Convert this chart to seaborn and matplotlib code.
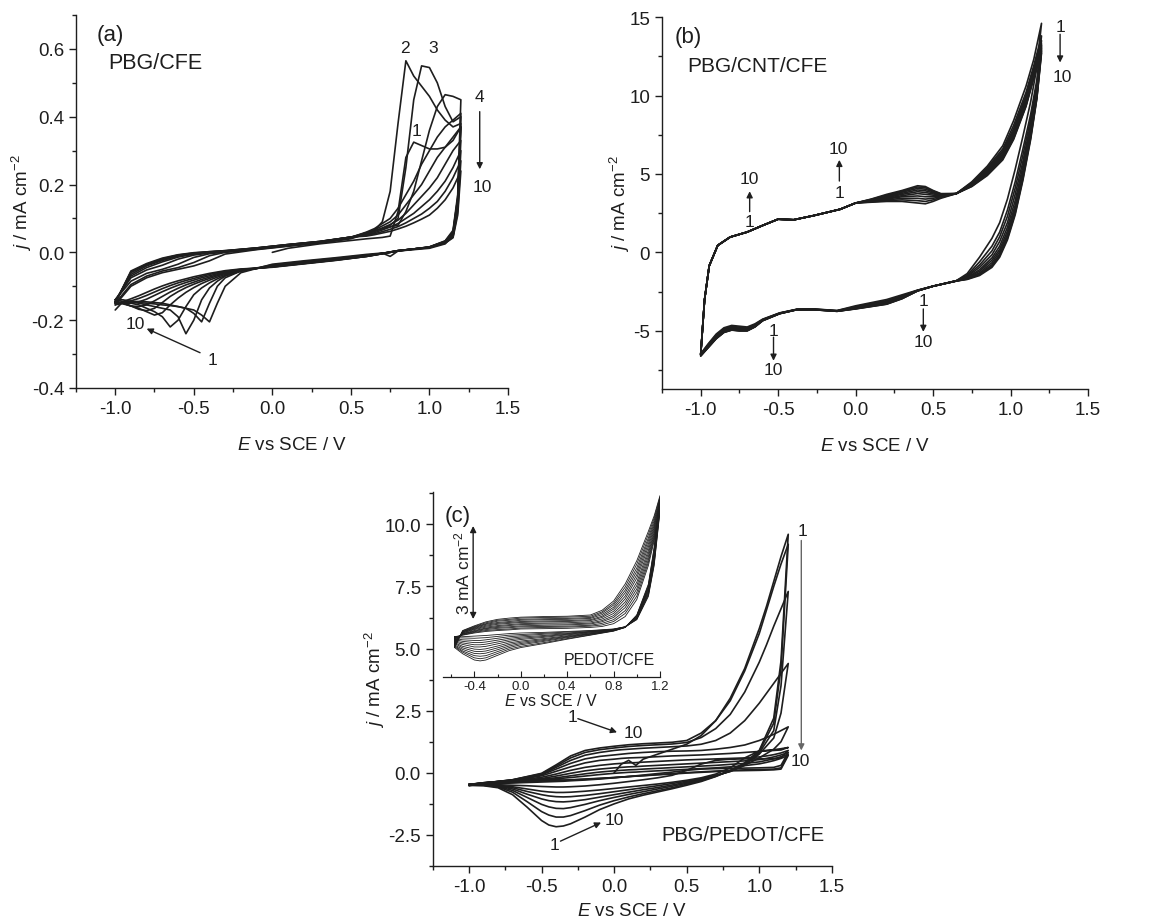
import numpy as np
import pandas as pd
import matplotlib
matplotlib.use('Agg')
import matplotlib.pyplot as plt
import seaborn as sns
from matplotlib.ticker import MultipleLocator, FormatStrFormatter

nan = np.nan

# ---------------- panel (a): PBG/CFE ----------------
a_E_fwd = [-1.0, -0.9, -0.8, -0.7, -0.6, -0.5, -0.4, -0.3, -0.1, 0.0, 0.1, 0.3, 0.5,
           0.6, 0.65, 0.7, 0.75, 0.8, 0.85, 0.9, 0.95, 1.0, 1.05, 1.1, 1.15, 1.2]
a_j_fwd = [
    [nan] * 9 + [0.0, 0.012, 0.025, 0.035, 0.04, 0.042, 0.044, 0.048, 0.12, 0.28, 0.325, 0.315, 0.305, 0.305, 0.31, 0.33, 0.37],
    [-0.155, -0.10, -0.075, -0.06, -0.05, -0.04, -0.025, -0.005, 0.008, 0.013, 0.018, 0.027, 0.04, 0.055, 0.065, 0.09, 0.18, 0.38, 0.565, 0.52, 0.49, 0.46, 0.42, 0.39, 0.37, 0.38],
    [-0.15, -0.095, -0.07, -0.055, -0.045, -0.03, -0.01, 0.0, 0.009, 0.014, 0.019, 0.028, 0.042, 0.055, 0.062, 0.07, 0.08, 0.1, 0.25, 0.45, 0.55, 0.545, 0.5, 0.43, 0.385, 0.40],
    [-0.14, -0.085, -0.062, -0.05, -0.035, -0.015, -0.004, 0.001, 0.01, 0.015, 0.02, 0.029, 0.043, 0.058, 0.064, 0.07, 0.075, 0.08, 0.12, 0.18, 0.27, 0.36, 0.43, 0.465, 0.46, 0.45],
    [-0.14, -0.075, -0.052, -0.038, -0.02, -0.008, -0.002, 0.002, 0.011, 0.016, 0.021, 0.03, 0.044, 0.06, 0.07, 0.085, 0.1, 0.13, 0.17, 0.21, 0.26, 0.3, 0.34, 0.37, 0.39, 0.41],
    [-0.145, -0.07, -0.045, -0.028, -0.014, -0.005, 0.0, 0.003, 0.012, 0.017, 0.022, 0.031, 0.045, 0.058, 0.066, 0.078, 0.09, 0.11, 0.14, 0.17, 0.2, 0.24, 0.28, 0.31, 0.34, 0.37],
    [-0.145, -0.065, -0.04, -0.024, -0.011, -0.004, 0.001, 0.004, 0.012, 0.017, 0.022, 0.031, 0.045, 0.055, 0.062, 0.072, 0.082, 0.095, 0.115, 0.14, 0.165, 0.19, 0.22, 0.26, 0.3, 0.33],
    [-0.148, -0.06, -0.037, -0.021, -0.009, -0.003, 0.001, 0.004, 0.013, 0.018, 0.023, 0.032, 0.045, 0.052, 0.058, 0.066, 0.075, 0.085, 0.1, 0.115, 0.135, 0.155, 0.18, 0.21, 0.25, 0.3],
    [-0.148, -0.057, -0.035, -0.019, -0.008, -0.002, 0.002, 0.005, 0.013, 0.018, 0.023, 0.032, 0.045, 0.05, 0.055, 0.061, 0.068, 0.076, 0.087, 0.1, 0.113, 0.13, 0.15, 0.18, 0.22, 0.27],
    [-0.15, -0.055, -0.033, -0.017, -0.007, -0.001, 0.002, 0.005, 0.013, 0.018, 0.023, 0.032, 0.045, 0.048, 0.052, 0.057, 0.062, 0.069, 0.077, 0.087, 0.098, 0.11, 0.13, 0.155, 0.19, 0.24],
]
a_E_rev = [1.2, 1.18, 1.15, 1.1, 1.0, 0.9, 0.8, 0.75, 0.7, 0.6, 0.4, 0.2, 0.0, -0.2, -0.3,
           -0.35, -0.4, -0.45, -0.5, -0.55, -0.6, -0.65, -0.7, -0.75, -0.8, -0.85, -0.9, -0.95, -1.0]
a_j_rev = [
    [0.37, 0.14, 0.05, 0.025, 0.012, 0.008, 0.004, -0.012, -0.002, -0.006, -0.016, -0.025, -0.035, -0.06, -0.1, -0.15, -0.205, -0.185, -0.17, -0.165, -0.16, -0.157, -0.155, -0.152, -0.15, -0.148, -0.147, -0.15, -0.155],
    [0.38, 0.15, 0.055, 0.03, 0.014, 0.009, 0.004, 0.0, -0.003, -0.008, -0.018, -0.027, -0.037, -0.055, -0.075, -0.1, -0.15, -0.205, -0.18, -0.165, -0.16, -0.155, -0.15, -0.148, -0.146, -0.145, -0.145, -0.148, -0.15],
    [0.40, 0.16, 0.06, 0.032, 0.015, 0.01, 0.005, 0.001, -0.003, -0.009, -0.02, -0.029, -0.039, -0.055, -0.07, -0.085, -0.105, -0.14, -0.2, -0.24, -0.19, -0.17, -0.165, -0.16, -0.155, -0.15, -0.145, -0.14, -0.14],
    [0.45, 0.17, 0.065, 0.034, 0.016, 0.01, 0.005, 0.001, -0.003, -0.01, -0.021, -0.03, -0.04, -0.055, -0.068, -0.078, -0.09, -0.105, -0.125, -0.16, -0.2, -0.22, -0.19, -0.175, -0.165, -0.155, -0.15, -0.145, -0.14],
    [0.41, 0.16, 0.06, 0.033, 0.016, 0.01, 0.005, 0.001, -0.003, -0.01, -0.021, -0.031, -0.041, -0.054, -0.065, -0.073, -0.082, -0.092, -0.104, -0.118, -0.135, -0.155, -0.178, -0.185, -0.175, -0.165, -0.158, -0.15, -0.145],
    [0.37, 0.15, 0.055, 0.032, 0.016, 0.01, 0.005, 0.001, -0.003, -0.011, -0.022, -0.032, -0.042, -0.053, -0.062, -0.069, -0.077, -0.085, -0.094, -0.104, -0.116, -0.13, -0.148, -0.165, -0.172, -0.168, -0.158, -0.15, -0.145],
    [0.33, 0.14, 0.05, 0.03, 0.015, 0.01, 0.005, 0.001, -0.004, -0.011, -0.022, -0.032, -0.042, -0.052, -0.06, -0.066, -0.073, -0.08, -0.088, -0.096, -0.106, -0.117, -0.13, -0.143, -0.155, -0.16, -0.158, -0.152, -0.148],
    [0.30, 0.13, 0.048, 0.029, 0.015, 0.01, 0.005, 0.0, -0.004, -0.012, -0.023, -0.033, -0.043, -0.051, -0.058, -0.063, -0.069, -0.075, -0.082, -0.089, -0.097, -0.106, -0.116, -0.127, -0.138, -0.146, -0.15, -0.15, -0.148],
    [0.27, 0.12, 0.045, 0.028, 0.015, 0.01, 0.004, 0.0, -0.004, -0.012, -0.023, -0.033, -0.043, -0.05, -0.056, -0.06, -0.065, -0.071, -0.077, -0.083, -0.09, -0.098, -0.107, -0.117, -0.127, -0.136, -0.143, -0.147, -0.15],
    [0.24, 0.11, 0.043, 0.027, 0.014, 0.01, 0.004, 0.0, -0.004, -0.012, -0.024, -0.034, -0.044, -0.049, -0.054, -0.058, -0.062, -0.067, -0.072, -0.078, -0.084, -0.091, -0.099, -0.108, -0.118, -0.128, -0.137, -0.145, -0.17],
]

# ---------------- panel (b): PBG/CNT/CFE ----------------
b_E_fwd = [-1.0, -0.99, -0.975, -0.945, -0.89, -0.81, -0.7, -0.6, -0.5, -0.4, -0.27, -0.1, 0.0,
           0.1, 0.2, 0.3, 0.4, 0.45, 0.5, 0.55, 0.65, 0.75, 0.85, 0.95, 1.02, 1.1, 1.15, 1.2]
b_j_fwd_head = [-6.5, -5.1, -3.0, -0.85, 0.45, 0.98, 1.3, 1.72, 2.12, 2.08, 2.35, 2.75, 3.15]
b_j_fwd_tail = [
    [3.20, 3.25, 3.25, 3.15, 3.10, 3.25, 3.45, 3.75, 4.50, 5.50, 6.80, 8.40, 10.6, 12.3, 14.6],
    [3.22, 3.30, 3.35, 3.30, 3.25, 3.35, 3.50, 3.75, 4.45, 5.40, 6.60, 8.10, 10.2, 11.9, 13.8],
    [3.25, 3.35, 3.45, 3.45, 3.40, 3.45, 3.55, 3.75, 4.42, 5.32, 6.48, 7.90, 10.0, 11.7, 13.5],
    [3.27, 3.40, 3.55, 3.60, 3.55, 3.55, 3.60, 3.75, 4.38, 5.25, 6.38, 7.75, 9.85, 11.6, 13.3],
    [3.30, 3.45, 3.62, 3.75, 3.70, 3.65, 3.62, 3.75, 4.34, 5.18, 6.28, 7.62, 9.70, 11.5, 13.2],
    [3.32, 3.50, 3.70, 3.87, 3.82, 3.73, 3.66, 3.75, 4.31, 5.12, 6.20, 7.52, 9.60, 11.4, 13.1],
    [3.34, 3.55, 3.77, 3.98, 3.93, 3.80, 3.68, 3.75, 4.28, 5.06, 6.12, 7.42, 9.50, 11.3, 13.0],
    [3.36, 3.60, 3.84, 4.08, 4.03, 3.86, 3.71, 3.75, 4.25, 5.01, 6.05, 7.34, 9.42, 11.2, 12.9],
    [3.38, 3.65, 3.90, 4.17, 4.12, 3.91, 3.73, 3.75, 4.22, 4.96, 5.98, 7.26, 9.35, 11.15, 12.8],
    [3.40, 3.70, 3.95, 4.25, 4.20, 3.95, 3.75, 3.75, 4.20, 4.90, 5.90, 7.20, 9.30, 11.1, 12.7],
]
b_E_rev = [1.2, 1.17, 1.13, 1.08, 1.03, 0.98, 0.93, 0.88, 0.8, 0.72, 0.65, 0.5, 0.4, 0.3, 0.2,
           0.1, 0.0, -0.12, -0.27, -0.38, -0.49, -0.6, -0.65, -0.7, -0.75, -0.8, -0.85, -0.9, -0.95, -1.0]
b_j_rev = [
    [14.6, 11.8, 9.6, 7.4, 5.3, 3.4, 1.9, 0.9, -0.3, -1.35, -1.8, -2.15, -2.40, -2.70, -3.00, -3.20, -3.40, -3.70, -3.60, -3.62, -3.85, -4.25, -4.55, -4.75, -4.70, -4.65, -4.80, -5.20, -5.80, -6.45],
    [13.8, 11.0, 8.8, 6.6, 4.5, 2.7, 1.3, 0.4, -0.6, -1.45, -1.8, -2.15, -2.41, -2.76, -3.07, -3.25, -3.45, -3.71, -3.61, -3.63, -3.86, -4.27, -4.60, -4.80, -4.76, -4.71, -4.86, -5.26, -5.85, -6.48],
    [13.5, 10.7, 8.5, 6.2, 4.1, 2.3, 1.0, 0.1, -0.8, -1.5, -1.81, -2.15, -2.42, -2.80, -3.12, -3.28, -3.48, -3.72, -3.62, -3.63, -3.87, -4.29, -4.63, -4.85, -4.82, -4.77, -4.92, -5.32, -5.90, -6.50],
    [13.3, 10.5, 8.2, 5.8, 3.7, 1.9, 0.7, -0.15, -0.95, -1.55, -1.81, -2.15, -2.43, -2.83, -3.17, -3.32, -3.51, -3.73, -3.63, -3.64, -3.88, -4.30, -4.66, -4.88, -4.86, -4.81, -4.96, -5.36, -5.93, -6.52],
    [13.2, 10.3, 8.0, 5.5, 3.3, 1.6, 0.4, -0.35, -1.1, -1.6, -1.81, -2.15, -2.43, -2.86, -3.20, -3.35, -3.53, -3.73, -3.63, -3.64, -3.88, -4.31, -4.68, -4.91, -4.90, -4.85, -5.00, -5.40, -5.96, -6.54],
    [13.1, 10.2, 7.8, 5.2, 3.0, 1.35, 0.2, -0.5, -1.2, -1.63, -1.82, -2.15, -2.44, -2.88, -3.23, -3.38, -3.55, -3.74, -3.64, -3.64, -3.89, -4.32, -4.70, -4.94, -4.93, -4.88, -5.03, -5.43, -5.99, -6.56],
    [13.0, 10.0, 7.6, 5.0, 2.8, 1.15, 0.05, -0.65, -1.3, -1.66, -1.82, -2.15, -2.44, -2.90, -3.25, -3.40, -3.57, -3.74, -3.64, -3.65, -3.89, -4.33, -4.72, -4.96, -4.96, -4.91, -5.06, -5.46, -6.01, -6.57],
    [12.9, 9.9, 7.4, 4.8, 2.6, 1.0, -0.1, -0.78, -1.37, -1.68, -1.82, -2.15, -2.45, -2.92, -3.27, -3.42, -3.58, -3.75, -3.65, -3.65, -3.90, -4.34, -4.73, -4.98, -4.98, -4.93, -5.08, -5.48, -6.03, -6.58],
    [12.8, 9.85, 7.3, 4.7, 2.5, 0.9, -0.2, -0.87, -1.42, -1.70, -1.82, -2.15, -2.45, -2.94, -3.29, -3.44, -3.59, -3.75, -3.65, -3.65, -3.90, -4.35, -4.74, -4.99, -4.99, -4.94, -5.09, -5.49, -6.04, -6.59],
    [12.7, 9.8, 7.2, 4.6, 2.4, 0.8, -0.3, -0.95, -1.47, -1.72, -1.82, -2.15, -2.45, -2.95, -3.30, -3.45, -3.60, -3.75, -3.65, -3.65, -3.90, -4.35, -4.75, -5.00, -5.00, -4.95, -5.10, -5.50, -6.05, -6.60],
]

# ---------------- panel (c): PBG/PEDOT/CFE ----------------
c_E_fwd = [-1.0, -0.9, -0.7, -0.5, -0.4, -0.3, -0.2, -0.1, 0.0, 0.05, 0.1, 0.15, 0.2,
           0.3, 0.4, 0.5, 0.6, 0.7, 0.8, 0.9, 1.0, 1.05, 1.1, 1.15, 1.2]
c_j_fwd = [
    [nan] * 8 + [0.0, 0.35, 0.5, 0.3, 0.55, 0.75, 0.95, 1.15, 1.5, 2.1, 3.0, 4.2, 5.8, 6.7, 7.7, 8.7, 9.6],
    [-0.52, -0.42, -0.28, -0.02, 0.32, 0.68, 0.9, 1.0, 1.07, 1.1, 1.13, 1.15, 1.17, 1.2, 1.23, 1.3, 1.6, 2.1, 2.9, 4.1, 5.6, 6.55, 7.5, 8.4, 9.2],
    [-0.51, -0.41, -0.28, -0.04, 0.27, 0.6, 0.82, 0.93, 1.0, 1.03, 1.06, 1.08, 1.1, 1.13, 1.16, 1.22, 1.42, 1.78, 2.35, 3.25, 4.45, 5.15, 5.9, 6.6, 7.3],
    [-0.5, -0.41, -0.29, -0.06, 0.22, 0.5, 0.71, 0.82, 0.9, 0.93, 0.95, 0.97, 0.99, 1.02, 1.05, 1.08, 1.15, 1.3, 1.6, 2.1, 2.8, 3.2, 3.6, 4.0, 4.4],
    [-0.49, -0.4, -0.3, -0.08, 0.15, 0.38, 0.56, 0.66, 0.72, 0.75, 0.78, 0.8, 0.82, 0.85, 0.87, 0.88, 0.9, 0.95, 1.02, 1.12, 1.3, 1.42, 1.55, 1.7, 1.85],
    [-0.48, -0.4, -0.31, -0.12, 0.06, 0.24, 0.4, 0.5, 0.55, 0.58, 0.6, 0.61, 0.62, 0.65, 0.68, 0.7, 0.72, 0.75, 0.78, 0.82, 0.86, 0.9, 0.93, 0.97, 1.02],
    [-0.47, -0.4, -0.32, -0.18, -0.05, 0.1, 0.22, 0.3, 0.36, 0.38, 0.4, 0.41, 0.43, 0.46, 0.49, 0.52, 0.54, 0.56, 0.58, 0.6, 0.64, 0.68, 0.73, 0.8, 0.9],
    [-0.47, -0.41, -0.33, -0.23, -0.13, -0.02, 0.08, 0.15, 0.2, 0.22, 0.24, 0.25, 0.27, 0.3, 0.33, 0.36, 0.39, 0.42, 0.45, 0.48, 0.53, 0.58, 0.64, 0.72, 0.82],
    [-0.47, -0.41, -0.34, -0.26, -0.2, -0.12, -0.04, 0.03, 0.08, 0.1, 0.12, 0.13, 0.15, 0.18, 0.21, 0.24, 0.27, 0.3, 0.34, 0.38, 0.44, 0.5, 0.56, 0.65, 0.75],
    [-0.46, -0.41, -0.35, -0.28, -0.24, -0.19, -0.13, -0.07, -0.02, 0.0, 0.02, 0.03, 0.05, 0.08, 0.11, 0.14, 0.17, 0.2, 0.24, 0.29, 0.36, 0.42, 0.49, 0.58, 0.7],
]
c_E_rev = [1.2, 1.15, 1.1, 1.0, 0.9, 0.8, 0.7, 0.6, 0.5, 0.4, 0.3, 0.2, 0.1, 0.0, -0.1,
           -0.2, -0.3, -0.35, -0.4, -0.45, -0.5, -0.6, -0.7, -0.8, -0.9, -1.0]
c_j_rev = [
    [9.6, 4.5, 2.2, 0.9, 0.4, 0.1, -0.15, -0.35, -0.5, -0.64, -0.77, -0.9, -1.05, -1.25, -1.48, -1.78, -2.05, -2.14, -2.17, -2.1, -1.92, -1.38, -0.88, -0.6, -0.52, -0.5],
    [9.2, 4.2, 2.0, 0.85, 0.38, 0.08, -0.14, -0.32, -0.46, -0.6, -0.72, -0.84, -0.97, -1.12, -1.3, -1.52, -1.72, -1.78, -1.78, -1.7, -1.56, -1.16, -0.78, -0.57, -0.5, -0.5],
    [7.3, 3.5, 1.7, 0.8, 0.35, 0.07, -0.12, -0.29, -0.42, -0.54, -0.65, -0.76, -0.87, -0.99, -1.12, -1.27, -1.4, -1.44, -1.43, -1.37, -1.27, -0.99, -0.71, -0.55, -0.5, -0.5],
    [4.4, 2.4, 1.4, 0.75, 0.32, 0.06, -0.11, -0.26, -0.38, -0.49, -0.59, -0.68, -0.78, -0.88, -0.98, -1.08, -1.15, -1.17, -1.16, -1.12, -1.05, -0.86, -0.65, -0.53, -0.49, -0.49],
    [1.85, 1.25, 0.95, 0.6, 0.3, 0.05, -0.1, -0.23, -0.34, -0.43, -0.52, -0.6, -0.68, -0.76, -0.84, -0.91, -0.96, -0.97, -0.96, -0.93, -0.88, -0.75, -0.6, -0.52, -0.49, -0.49],
    [1.02, 0.92, 0.9, 0.88, 0.6, 0.2, -0.05, -0.2, -0.3, -0.38, -0.45, -0.51, -0.57, -0.63, -0.69, -0.74, -0.78, -0.79, -0.79, -0.77, -0.74, -0.65, -0.56, -0.5, -0.48, -0.48],
    [0.9, 0.6, 0.57, 0.56, 0.56, 0.55, 0.5, 0.35, 0.1, -0.1, -0.2, -0.28, -0.35, -0.42, -0.48, -0.53, -0.56, -0.57, -0.57, -0.56, -0.55, -0.52, -0.5, -0.48, -0.47, -0.47],
    [0.82, 0.3, 0.22, 0.2, 0.19, 0.18, 0.17, 0.15, 0.1, 0.03, -0.03, -0.09, -0.15, -0.2, -0.25, -0.29, -0.32, -0.34, -0.35, -0.36, -0.37, -0.39, -0.41, -0.43, -0.45, -0.47],
    [0.75, 0.2, 0.15, 0.13, 0.12, 0.1, 0.07, 0.04, 0.01, -0.03, -0.07, -0.11, -0.15, -0.19, -0.23, -0.26, -0.29, -0.3, -0.31, -0.32, -0.33, -0.36, -0.39, -0.42, -0.45, -0.47],
    [0.7, 0.15, 0.12, 0.1, 0.09, 0.08, 0.05, 0.02, -0.01, -0.05, -0.08, -0.12, -0.15, -0.19, -0.22, -0.25, -0.28, -0.29, -0.3, -0.31, -0.32, -0.35, -0.38, -0.41, -0.44, -0.46],
]

# ---------------- inset: PEDOT/CFE (current offset, 3 mA cm-2 scale bar) ----------------
in_E_fwd = [-0.57, -0.5, -0.4, -0.3, -0.2, -0.1, 0.0, 0.2, 0.4, 0.6, 0.7, 0.8, 0.9, 1.0, 1.1, 1.15, 1.2]
in_j_fwd = [
    [1.30, 1.35, 1.42, 1.47, 1.50, 1.52, 1.55, 1.56, 1.57, 1.60, 1.63, 1.72, 1.95, 2.50, 3.60, 4.40, 5.35],
    [1.27, 1.36, 1.44, 1.50, 1.53, 1.55, 1.58, 1.60, 1.61, 1.64, 1.68, 1.79, 2.05, 2.61, 3.70, 4.47, 5.40],
    [1.24, 1.38, 1.46, 1.53, 1.57, 1.59, 1.62, 1.63, 1.64, 1.67, 1.73, 1.85, 2.14, 2.73, 3.79, 4.54, 5.44],
    [1.21, 1.39, 1.48, 1.56, 1.60, 1.62, 1.65, 1.67, 1.68, 1.71, 1.78, 1.92, 2.24, 2.84, 3.89, 4.61, 5.49],
    [1.17, 1.40, 1.50, 1.58, 1.63, 1.66, 1.69, 1.71, 1.71, 1.74, 1.82, 1.98, 2.33, 2.95, 3.99, 4.68, 5.53],
    [1.14, 1.42, 1.53, 1.61, 1.66, 1.69, 1.72, 1.74, 1.75, 1.78, 1.87, 2.05, 2.42, 3.06, 4.09, 4.76, 5.58],
    [1.11, 1.43, 1.55, 1.64, 1.70, 1.73, 1.76, 1.78, 1.79, 1.82, 1.92, 2.12, 2.52, 3.19, 4.20, 4.83, 5.63],
    [1.08, 1.45, 1.57, 1.67, 1.73, 1.76, 1.79, 1.81, 1.82, 1.85, 1.96, 2.19, 2.61, 3.30, 4.30, 4.90, 5.67],
    [1.04, 1.46, 1.59, 1.70, 1.76, 1.79, 1.83, 1.85, 1.86, 1.89, 2.01, 2.25, 2.71, 3.41, 4.40, 4.97, 5.72],
    [1.01, 1.47, 1.61, 1.72, 1.80, 1.83, 1.86, 1.88, 1.89, 1.92, 2.06, 2.32, 2.80, 3.52, 4.49, 5.05, 5.76],
    [0.98, 1.49, 1.63, 1.75, 1.83, 1.86, 1.90, 1.92, 1.93, 1.96, 2.10, 2.38, 2.90, 3.64, 4.60, 5.13, 5.81],
    [0.95, 1.50, 1.65, 1.78, 1.86, 1.90, 1.93, 1.95, 1.96, 2.00, 2.15, 2.45, 3.00, 3.75, 4.70, 5.20, 5.85],
]
in_E_rev = [1.2, 1.15, 1.1, 1.0, 0.9, 0.8, 0.6, 0.4, 0.2, 0.0, -0.1, -0.2, -0.3, -0.35, -0.4, -0.5, -0.57]
in_j_rev = [
    [5.35, 3.60, 2.60, 1.85, 1.62, 1.55, 1.50, 1.47, 1.44, 1.42, 1.40, 1.37, 1.34, 1.33, 1.32, 1.30, 1.30],
    [5.40, 3.65, 2.64, 1.86, 1.62, 1.54, 1.49, 1.45, 1.41, 1.37, 1.35, 1.31, 1.27, 1.26, 1.25, 1.26, 1.27],
    [5.44, 3.71, 2.67, 1.88, 1.62, 1.54, 1.47, 1.42, 1.38, 1.33, 1.30, 1.25, 1.20, 1.18, 1.18, 1.20, 1.24],
    [5.49, 3.76, 2.71, 1.89, 1.61, 1.53, 1.46, 1.40, 1.34, 1.29, 1.25, 1.19, 1.13, 1.11, 1.11, 1.15, 1.21],
    [5.53, 3.82, 2.75, 1.90, 1.61, 1.52, 1.45, 1.38, 1.31, 1.25, 1.20, 1.13, 1.06, 1.04, 1.04, 1.10, 1.17],
    [5.58, 3.87, 2.78, 1.92, 1.61, 1.52, 1.43, 1.36, 1.28, 1.21, 1.15, 1.07, 0.99, 0.97, 0.97, 1.05, 1.14],
    [5.63, 3.93, 2.82, 1.93, 1.61, 1.51, 1.42, 1.33, 1.24, 1.16, 1.10, 1.00, 0.91, 0.89, 0.90, 0.99, 1.11],
    [5.67, 3.98, 2.86, 1.95, 1.61, 1.50, 1.40, 1.31, 1.21, 1.12, 1.05, 0.94, 0.84, 0.82, 0.83, 0.94, 1.08],
    [5.72, 4.04, 2.89, 1.96, 1.61, 1.50, 1.39, 1.29, 1.18, 1.08, 1.00, 0.88, 0.77, 0.75, 0.76, 0.89, 1.04],
    [5.76, 4.09, 2.93, 1.97, 1.60, 1.49, 1.38, 1.27, 1.15, 1.04, 0.95, 0.82, 0.69, 0.67, 0.69, 0.84, 1.01],
    [5.81, 4.15, 2.96, 1.99, 1.60, 1.49, 1.36, 1.24, 1.11, 0.99, 0.90, 0.76, 0.62, 0.59, 0.62, 0.80, 0.98],
    [5.85, 4.20, 3.00, 2.00, 1.60, 1.48, 1.35, 1.22, 1.08, 0.95, 0.85, 0.70, 0.55, 0.52, 0.55, 0.75, 0.95],
]

INK = '#1e1e1e'


def cv_frame(E_fwd, j_fwd, E_rev, j_rev):
    """Long-form table of cycles: forward sweep followed by reverse sweep."""
    rows = []
    for n, (jf, jr) in enumerate(zip(j_fwd, j_rev), start=1):
        E = list(E_fwd) + list(E_rev)
        j = list(jf) + list(jr)
        for k, (e, v) in enumerate(zip(E, j)):
            rows.append((n, k, e, v))
    df = pd.DataFrame(rows, columns=['cycle', 'step', 'E', 'j'])
    return df.dropna()


def draw_cv(ax, df, lw=1.2):
    sns.lineplot(data=df, x='E', y='j', units='cycle', estimator=None, sort=False,
                 color=INK, linewidth=lw, legend=False, ax=ax)


def style_axis(ax, ylim, ymajor, yminor, yfmt):
    ax.set_xlim(-1.25, 1.5)
    ax.set_ylim(*ylim)
    ax.xaxis.set_major_locator(MultipleLocator(0.5))
    ax.xaxis.set_minor_locator(MultipleLocator(0.25))
    ax.xaxis.set_major_formatter(FormatStrFormatter('%.1f'))
    ax.yaxis.set_major_locator(MultipleLocator(ymajor))
    ax.yaxis.set_minor_locator(MultipleLocator(yminor))
    ax.yaxis.set_major_formatter(FormatStrFormatter(yfmt))
    sns.despine(ax=ax)
    ax.tick_params(which='major', direction='out', length=5, width=1, labelsize=13.5, colors=INK)
    ax.tick_params(which='minor', direction='out', length=3, width=1, colors=INK)
    for s in ['left', 'bottom']:
        ax.spines[s].set_linewidth(1.0)
        ax.spines[s].set_color(INK)
    ax.set_xlabel(r'$E$ vs SCE / V', fontsize=13.5, color=INK, labelpad=14)
    ax.set_ylabel(r'$j$ / mA cm$^{-2}$', fontsize=13.5, color=INK, labelpad=-2)


def arrow(ax, start, end, color=INK, style='-|>'):
    ax.annotate('', xy=end, xytext=start,
                arrowprops=dict(arrowstyle=style, color=color, lw=1.0,
                                mutation_scale=9, shrinkA=0, shrinkB=0))


sns.set_style('ticks')
plt.rcParams['font.family'] = ['Liberation Sans', 'DejaVu Sans']
plt.rcParams['mathtext.fontset'] = 'custom'
plt.rcParams['mathtext.rm'] = 'Liberation Sans'
plt.rcParams['mathtext.it'] = 'Liberation Sans:italic'
plt.rcParams['axes.unicode_minus'] = False

fig = plt.figure(figsize=(11.63, 9.2), dpi=100)
ax_a = fig.add_axes([0.0653, 0.5772, 0.3715, 0.4054])
ax_b = fig.add_axes([0.5692, 0.5761, 0.3663, 0.4043])
ax_c = fig.add_axes([0.3721, 0.0576, 0.3431, 0.4065])
ax_in = fig.add_axes([0.3809, 0.2630, 0.1866, 0.2043])

small = dict(fontsize=12.5, color=INK, ha='center', va='center')

# ---- (a)
draw_cv(ax_a, cv_frame(a_E_fwd, a_j_fwd, a_E_rev, a_j_rev))
style_axis(ax_a, (-0.4, 0.7), 0.2, 0.1, '%.1f')
ax_a.text(0.049, 0.949, '(a)', transform=ax_a.transAxes, fontsize=16, va='center', color=INK)
ax_a.text(0.074, 0.874, 'PBG/CFE', transform=ax_a.transAxes, fontsize=15.5, va='center', color=INK)
ax_a.text(0.845, 0.605, '2', **small)
ax_a.text(1.023, 0.605, '3', **small)
ax_a.text(0.92, 0.36, '1', **small)
ax_a.text(1.32, 0.46, '4', **small)
arrow(ax_a, (1.32, 0.415), (1.32, 0.245))
ax_a.text(1.335, 0.193, '10', **small)
ax_a.text(-0.873, -0.21, '10', **small)
ax_a.text(-0.383, -0.315, '1', **small)
arrow(ax_a, (-0.46, -0.296), (-0.80, -0.225))

# ---- (b)
head = list(b_j_fwd_head)
draw_cv(ax_b, cv_frame(b_E_fwd, [head + t for t in b_j_fwd_tail], b_E_rev, b_j_rev))
style_axis(ax_b, (-8.7, 15), 5, 2.5, '%d')
ax_b.text(0.03, 0.949, '(b)', transform=ax_b.transAxes, fontsize=16, va='center', color=INK)
ax_b.text(0.059, 0.871, 'PBG/CNT/CFE', transform=ax_b.transAxes, fontsize=15, va='center', color=INK)
ax_b.text(1.32, 14.4, '1', **small)
arrow(ax_b, (1.32, 13.9), (1.32, 12.1))
ax_b.text(1.333, 11.2, '10', **small)
ax_b.text(-0.684, 2.0, '1', **small)
arrow(ax_b, (-0.684, 2.6), (-0.684, 3.9))
ax_b.text(-0.684, 4.68, '10', **small)
ax_b.text(-0.105, 3.85, '1', **small)
arrow(ax_b, (-0.105, 4.55), (-0.105, 5.9))
ax_b.text(-0.11, 6.6, '10', **small)
ax_b.text(-0.53, -5.0, '1', **small)
arrow(ax_b, (-0.53, -5.4), (-0.53, -6.9))
ax_b.text(-0.53, -7.45, '10', **small)
ax_b.text(0.437, -3.09, '1', **small)
arrow(ax_b, (0.437, -3.6), (0.437, -5.06))
ax_b.text(0.437, -5.7, '10', **small)

# ---- (c)
draw_cv(ax_c, cv_frame(c_E_fwd, c_j_fwd, c_E_rev, c_j_rev))
style_axis(ax_c, (-3.75, 11.3), 2.5, 1.25, '%.1f')
ax_c.xaxis.labelpad = 5
ax_c.text(0.031, 0.936, '(c)', transform=ax_c.transAxes, fontsize=16, va='center', color=INK)
ax_c.text(0.983, 0.083, 'PBG/PEDOT/CFE', transform=ax_c.transAxes, fontsize=14.5,
          va='center', ha='right', color=INK)
ax_c.text(1.30, 9.75, '1', **small)
arrow(ax_c, (1.29, 9.35), (1.29, 0.9), color='#666666')
ax_c.text(1.28, 0.5, '10', **small)
ax_c.text(-0.285, 2.28, '1', **small)
arrow(ax_c, (-0.25, 2.18), (0.02, 1.63))
ax_c.text(0.13, 1.63, '10', **small)
ax_c.text(-0.41, -2.87, '1', **small)
arrow(ax_c, (-0.37, -2.75), (-0.09, -2.0))
ax_c.text(0.0, -1.87, '10', **small)

# ---- inset
ax_in.patch.set_alpha(0)
draw_cv(ax_in, cv_frame(in_E_fwd, in_j_fwd, in_E_rev, in_j_rev), lw=0.6)
ax_in.set_xlim(-0.67, 1.2)
ax_in.set_ylim(0, 6.06)
sns.despine(ax=ax_in, left=True)
ax_in.set_yticks([])
ax_in.set_ylabel('')
ax_in.set_xticks([-0.4, 0.0, 0.4, 0.8, 1.2])
ax_in.xaxis.set_minor_locator(MultipleLocator(0.2))
ax_in.xaxis.set_major_formatter(FormatStrFormatter('%.1f'))
ax_in.tick_params(which='major', direction='in', length=4, width=0.8, labelsize=9.5, pad=2, colors=INK)
ax_in.tick_params(which='minor', direction='in', length=2, width=0.8, colors=INK)
ax_in.spines['bottom'].set_linewidth(0.9)
ax_in.spines['bottom'].set_color(INK)
ax_in.set_xlabel(r'$E$ vs SCE / V', fontsize=11.5, color=INK, labelpad=0)
ax_in.text(1.16, 0.55, 'PEDOT/CFE', fontsize=11.5, ha='right', va='center', color=INK)
arrow(ax_in, (-0.41, 1.87), (-0.41, 4.87), style='<|-|>')
ax_in.text(-0.50, 3.37, r'3 mA cm$^{-2}$', fontsize=12.5, rotation=90, ha='center', va='center', color=INK)

fig.savefig('out.png', dpi=100)
